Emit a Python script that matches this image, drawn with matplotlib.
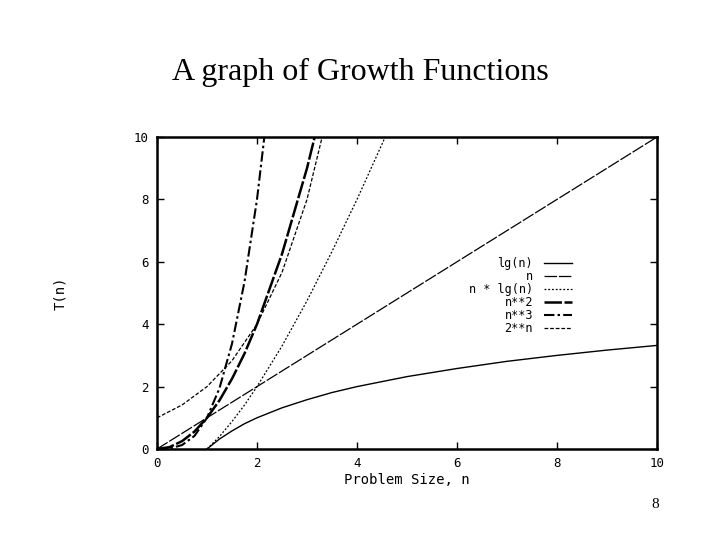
import matplotlib
matplotlib.use("Agg")
import matplotlib.pyplot as plt

# ---- data ----
lg_x = [1, 1.25, 1.5, 1.75, 2, 2.5, 3, 3.5, 4, 5, 6, 7, 8, 9, 10]
lg_y = [0, 0.32, 0.58, 0.81, 1.0, 1.32, 1.58, 1.81, 2.0, 2.32, 2.58, 2.81, 3.0, 3.17, 3.32]

lin_x = [0, 10]
lin_y = [0, 10]

nlg_x = [1, 1.25, 1.5, 1.75, 2, 2.5, 3, 3.5, 4, 4.5, 5]
nlg_y = [0, 0.40, 0.88, 1.41, 2.0, 3.3, 4.75, 6.33, 8.0, 9.77, 11.6]

sq_x = [0, 0.25, 0.5, 0.75, 1, 1.25, 1.5, 1.75, 2, 2.5, 3, 3.5]
sq_y = [0, 0.06, 0.25, 0.56, 1.0, 1.56, 2.25, 3.06, 4.0, 6.25, 9.0, 12.25]

cu_x = [0, 0.25, 0.5, 0.75, 1, 1.25, 1.5, 1.75, 2, 2.25]
cu_y = [0, 0.016, 0.125, 0.42, 1.0, 1.95, 3.375, 5.36, 8.0, 11.4]

ex_x = [0, 0.5, 1, 1.5, 2, 2.5, 3, 3.5]
ex_y = [1, 1.41, 2.0, 2.83, 4.0, 5.66, 8.0, 11.3]

labels = ["lg(n)", "n", "n * lg(n)", "n**2", "n**3", "2**n"]
xticks = [0, 2, 4, 6, 8, 10]
yticks = [0, 2, 4, 6, 8, 10]

mono = "DejaVu Sans Mono"

fig = plt.figure(figsize=(7.2, 5.4), dpi=100)
fig.patch.set_facecolor("white")
ax = fig.add_axes([157/720, 1-449/540, 500/720, 312/540])

ax.plot(lg_x, lg_y, color="black", lw=1.0, label=labels[0])
ax.plot(lin_x, lin_y, color="black", lw=0.9, dashes=(10, 1.5), label=labels[1])
ax.plot(nlg_x, nlg_y, color="black", lw=0.9, dashes=(1.5, 1.5), label=labels[2])
ax.plot(sq_x, sq_y, color="black", lw=1.8, dashes=(7, 1), label=labels[3])
ax.plot(cu_x, cu_y, color="black", lw=1.5, dashes=(5, 1.5, 1.2, 1.5), label=labels[4])
ax.plot(ex_x, ex_y, color="black", lw=0.9, dashes=(3, 1.5), label=labels[5])

ax.set_xlim(0, 10)
ax.set_ylim(0, 10)
ax.set_xticks(xticks)
ax.set_yticks(yticks)
ax.set_xticklabels([str(t) for t in xticks], family=mono, fontsize=9)
ax.set_yticklabels([str(t) for t in yticks], family=mono, fontsize=9)
ax.tick_params(direction="in", length=5, width=1, top=True, right=True, pad=6)
for s in ax.spines.values():
    s.set_linewidth(1.8)

ax.set_xlabel("Problem Size, n", family=mono, fontsize=10, labelpad=2)
ax.set_ylabel("T(n)", family=mono, fontsize=10, labelpad=48)

leg = ax.legend(loc="upper right", bbox_to_anchor=(0.83, 0.615), frameon=False,
                markerfirst=False, borderpad=0, borderaxespad=0, labelspacing=0.0,
                handlelength=2.4, handletextpad=0.9,
                prop={"family": mono, "size": 8.5})

fig.text(0.5, 1-72/540, "A graph of Growth Functions", ha="center", va="center",
         family="Liberation Serif", fontsize=23)
fig.text(655/720, 1-505/540, "8", ha="center", va="center",
         family="Liberation Serif", fontsize=11)

fig.savefig("out.png", dpi=100)
